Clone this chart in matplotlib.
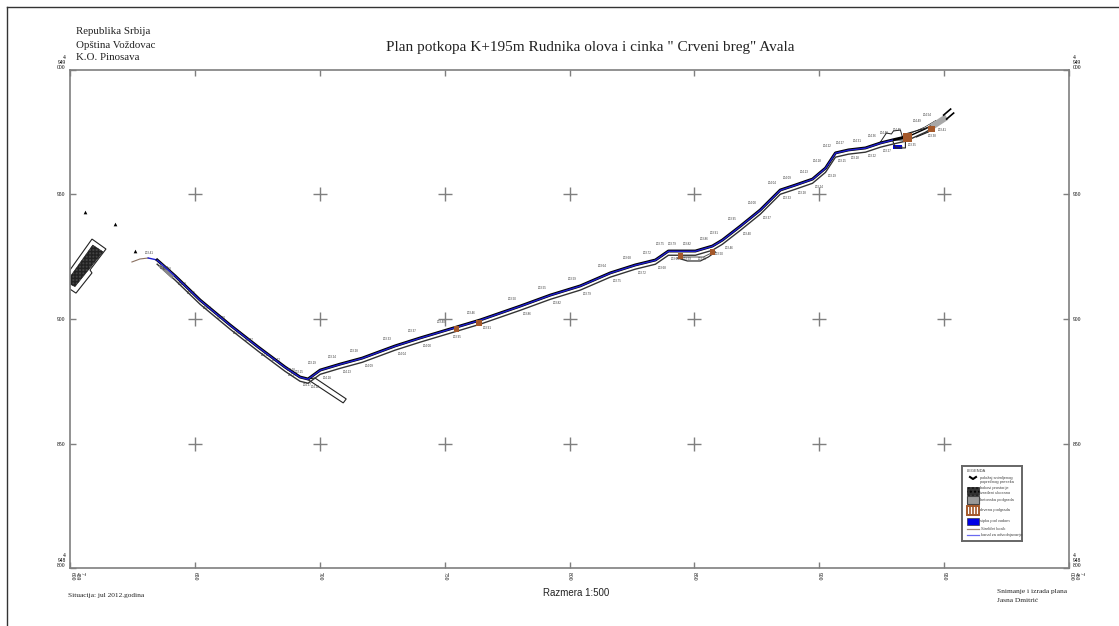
import numpy as np
import matplotlib
matplotlib.use('Agg')
import matplotlib.pyplot as plt
from matplotlib.lines import Line2D
from matplotlib.patches import Polygon, Rectangle

W, H = 1119, 626
serif = 'Liberation Serif'
sans = 'Liberation Sans'
gray = '#7f7f7f'
brown = '#a4582a'
blue = '#1f1fd0'

# plan coordinates in metres, origin at the lower left corner of the frame
route_x = [34.9, 42.1, 52.1, 64.1, 75.3, 86.1, 92.1, 95.3, 100.2, 108.2, 117.0, 130.2, 140.2, 152.2,
           164.2, 180.3, 192.3, 204.3, 216.3, 226.3, 234.4, 239.6, 244.4, 250.4, 257.2, 261.2, 268.4,
           276.4, 284.4, 290.4, 297.3, 302.5, 306.5, 311.7, 318.5, 324.5, 329.3, 334.5, 342.5, 346.5]
route_y = [123.7, 117.3, 107.6, 97.6, 88.8, 80.7, 76.7, 75.9, 79.5, 81.9, 84.3, 89.2, 92.4, 96.0,
           99.6, 105.2, 109.6, 113.3, 118.5, 121.7, 123.7, 127.3, 127.3, 127.3, 129.3, 131.7, 137.3,
           143.8, 151.8, 153.8, 156.2, 160.6, 166.7, 167.9, 168.7, 170.7, 171.9, 173.1, 176.7, 179.1]
# blue drainage canal stops at this route point
canal_end = 37

start_x = [24.8, 28.0, 31.3, 34.9]
start_y = [122.9, 124.1, 124.5, 123.7]
wedge1_x = [36.1, 41.3]
wedge1_y = [121.7, 116.9]
wedge2_x = [344.9, 351.0]
wedge2_y = [177.1, 181.1]
portal1_x = [349.8, 352.6]
portal1_y = [181.9, 184.3]
portal2_x = [351.0, 353.8]
portal2_y = [180.3, 182.7]

building_x = [8.8, 14.4, 8.0, 8.8, 2.4, 0.0, 0.0]
building_y = [132.1, 128.1, 119.7, 118.5, 110.4, 112.0, 119.7]
dark_x = [9.1, 13.2, 2.0, 0.0, 0.0]
dark_y = [129.7, 127.0, 113.0, 114.0, 116.9]
branch_x = [98.1, 110.6, 109.4, 94.9]
branch_y = [76.3, 67.9, 66.3, 75.9]
loop_outer_x = [243.2, 247.2, 252.4, 255.6, 258.4]
loop_outer_y = [124.5, 123.3, 123.3, 124.9, 126.9]
loop_inner_x = [245.2, 248.4, 253.6, 256.8]
loop_inner_y = [124.9, 124.9, 124.9, 126.5]
chamber_x = [324.5, 326.9, 328.9, 329.7, 332.5, 333.3]
chamber_y = [171.1, 174.7, 174.3, 175.5, 175.9, 173.1]
niche_x = [329.3, 330.5, 334.5, 334.5, 330.5]
niche_y = [171.9, 168.7, 168.7, 171.9, 171.9]
pool_x = [329.7, 333.0]
pool_y = [168.4, 169.9]
upper_x = [334.5, 344.1]
upper_y = [174.3, 177.1]
lower_x = [338.9, 343.7]
lower_y = [173.1, 175.1]

timber_x = [154.6, 163.8, 244.4, 257.2, 335.3, 344.9]
timber_y = [96.0, 98.4, 125.3, 126.9, 172.7, 176.3]
timber_size = [14, 14, 14, 14, 42, 22]
point_x = [6.0, 18.2, 26.0]
point_y = [143.0, 138.2, 127.3]

levels = ['203.41', '203.38', '203.35', '203.30', '203.27', '203.22', '203.18', '203.15', '203.19', '203.24',
          '203.28', '203.33', '203.37', '203.40', '203.46', '203.50', '203.55', '203.59', '203.64', '203.68',
          '203.72', '203.75', '203.79', '203.82', '203.86', '203.91', '203.95', '204.00', '204.04', '204.09',
          '204.13', '204.18', '204.22', '204.27', '204.31', '204.36', '204.40', '204.45', '204.49', '204.54']

x_ticks = [0, 50, 100, 150, 200, 250, 300, 350, 400]
x_labels = ['7\n459\n600', '650', '700', '750', '800', '850', '900', '950', '7\n460\n000']
y_ticks = [0, 50, 100, 150, 200]
y_labels = ['4\n948\n800', '850', '900', '950', '4\n949\n000']

route_x = np.array(route_x)
route_y = np.array(route_y)

fig = plt.figure(figsize=(W / 100, H / 100), dpi=100, facecolor='white')
ax = fig.add_axes([70 / W, 1 - 568 / H, 999 / W, 498 / H])
ax.set_xlim(0, 400)
ax.set_ylim(0, 200)

# sheet border
fig.add_artist(Line2D([7 / W, 7 / W], [0, 1 - 7 / H], color='#333333', lw=1))
fig.add_artist(Line2D([7 / W, 1], [1 - 7 / H, 1 - 7 / H], color='#333333', lw=1))

for s in ax.spines.values():
    s.set_color(gray)
    s.set_linewidth(1.2)

ax.set_xticks(x_ticks)
ax.set_xticklabels(x_labels, fontfamily=serif, fontsize=4, rotation=-90, linespacing=1)
ax.set_yticks(y_ticks)
ax.set_yticklabels(y_labels, fontfamily=serif, fontsize=4, linespacing=1)
ax.tick_params(axis='both', direction='in', length=4.5, width=1, color=gray, pad=3, top=True, right=True,
               labelright=True)
for t in ax.yaxis.get_major_ticks()[::4]:
    t.label1.set_verticalalignment('bottom')
    t.label2.set_verticalalignment('bottom')
for t in ax.xaxis.get_major_ticks()[::8]:
    t.label1.set_horizontalalignment('left')

# grid crosses
gx, gy = np.meshgrid(x_ticks[1:-1], y_ticks[1:-1])
ax.plot(gx.ravel(), gy.ravel(), '+', color=gray, ms=9.5, mew=1, ls='none')

# old dump at the left edge
ax.add_patch(Polygon(np.column_stack([building_x, building_y]), closed=True, fc='white', ec='#222222', lw=0.8))
ax.add_patch(Polygon(np.column_stack([dark_x, dark_y]), closed=True, fc='#444444', ec='#222222', lw=0.4,
                     hatch='+++++'))
ax.scatter(point_x, point_y, s=7, marker='^', color='black', lw=0)

# side workings, white fill so they cut the main walls
ax.add_patch(Polygon(np.column_stack([branch_x, branch_y]), closed=True, fc='white', ec='#222222', lw=0.8))
ax.plot(loop_outer_x, loop_outer_y, color='#333333', lw=0.9)
ax.plot(loop_inner_x, loop_inner_y, color='#555555', lw=0.7)
ax.plot(chamber_x, chamber_y, color='#222222', lw=0.7)
ax.plot(niche_x, niche_y, color='#222222', lw=0.8)
ax.add_patch(Rectangle((pool_x[0], pool_y[0]), pool_x[1] - pool_x[0], pool_y[1] - pool_y[0], color='#0000e0', lw=0))

# tunnel walls and canal
ax.plot(start_x[:3], start_y[:3], color='#8a7060', lw=0.8)
ax.plot(start_x[2:], start_y[2:], color=blue, lw=1)
ax.plot(route_x, route_y, color='black', lw=2.1, zorder=3)
ax.plot(route_x, route_y - 1.7, color='#333333', lw=1, zorder=3)
ax.plot(route_x[:canal_end], route_y[:canal_end] - 0.1, color=blue, lw=1, zorder=4)
ax.plot(route_x[canal_end:], route_y[canal_end:] + 0.2, color='white', lw=0.7, zorder=4)
ax.plot(wedge1_x, wedge1_y, color='#888888', lw=3.2, solid_capstyle='butt', zorder=3)
ax.plot(upper_x, upper_y, color='#222222', lw=0.8, zorder=4)
ax.plot(lower_x, lower_y, color='#222222', lw=0.8, zorder=4)
ax.plot(wedge2_x, wedge2_y, color='#a8a8a8', lw=4.5, solid_capstyle='butt', zorder=4)
ax.plot(portal1_x, portal1_y, color='black', lw=1.2, zorder=4)
ax.plot(portal2_x, portal2_y, color='black', lw=1.2, zorder=4)
ax.scatter(timber_x, timber_y, s=timber_size, marker='s', color=brown, lw=0, zorder=5)

# survey levels along both walls
for i, lv in enumerate(levels):
    ax.annotate(lv, (route_x[i], route_y[i]), xytext=(-6, 5), textcoords='offset points', fontsize=2.1,
                color='#333333', ha='center', va='center', fontfamily=sans)
    ax.annotate(levels[-i - 1], (route_x[i], route_y[i]), xytext=(5, -6), textcoords='offset points', fontsize=2.1,
                color='#333333', ha='center', va='center', fontfamily=sans)

# legend in its own little axes, pixel units
lg = fig.add_axes([962 / W, 1 - 541 / H, 60 / W, 75 / H])
lg.set_xlim(0, 60)
lg.set_ylim(75, 0)
lg.set_xticks([])
lg.set_yticks([])
for s in lg.spines.values():
    s.set_color('#666666')
    s.set_linewidth(1.4)
lg_style = dict(fontfamily=sans, fontsize=2.9, color='#444444', va='center', linespacing=1.1)
lg.text(5, 5, 'LEGENDA', **lg_style)
lg.plot([8, 11, 14], [11, 13, 11], color='black', lw=1.5)
lg.text(18.5, 14, 'položaj snimljenog\npoprečnog preseka', **lg_style)
lg.add_patch(Rectangle((5, 20.5), 12, 8, fc='#333333', ec='black', lw=0.4, hatch='....'))
lg.text(18.5, 24.5, 'bokovi prostorije\nizrađeni ukosano', **lg_style)
lg.add_patch(Rectangle((5, 30), 12, 7.5, fc='#999999', ec='#444444', lw=0.8))
lg.text(18.5, 33.5, 'betonska podgrada', **lg_style)
lg.add_patch(Rectangle((5, 39.5), 12, 9, fc='white', ec=brown, lw=1.4))
lg.plot([8, 8], [39.5, 48.5], color=brown, lw=1.2)
lg.plot([11, 11], [39.5, 48.5], color=brown, lw=1.2)
lg.plot([14, 14], [39.5, 48.5], color=brown, lw=1.2)
lg.text(18.5, 44, 'drvena podgrada', **lg_style)
lg.add_patch(Rectangle((5, 51.5), 12, 7.5, fc='#0000e6', ec='#222222', lw=0.4))
lg.text(18.5, 55, 'sipka pod vodom', **lg_style)
lg.plot([5, 17], [63, 63], color='#a08878', lw=0.9)
lg.text(19, 63, 'Strelični kosik', **lg_style)
lg.plot([5, 17], [69, 69], color='#6a6af0', lw=0.9)
lg.text(19, 69, 'kanal za odvodnjavanje', **lg_style)

# sheet texts
fig.text(590 / W, 1 - 47 / H, 'Plan potkopa K+195m Rudnika olova i cinka " Crveni breg" Avala',
         fontfamily=serif, fontsize=11, ha='center', va='center', color='#222222')
for line, y in zip(['Republika Srbija', 'Opština Voždovac', 'K.O. Pinosava'], [32, 45, 58]):
    fig.text(76 / W, 1 - y / H, line, fontfamily=serif, fontsize=7.8, va='center', color='#222222')
fig.text(576 / W, 1 - 593 / H, 'Razmera 1:500', fontfamily=sans, fontsize=7, ha='center', va='center', color='#222222')
fig.text(68 / W, 1 - 595 / H, 'Situacija: jul 2012.godina', fontfamily=serif, fontsize=5.3, va='center', color='#222222')
fig.text(997 / W, 1 - 592 / H, 'Snimanje i izrada plana', fontfamily=serif, fontsize=5.3, va='center', color='#222222')
fig.text(997 / W, 1 - 601 / H, 'Jasna Dmitrić', fontfamily=serif, fontsize=5.3, va='center', color='#222222')

fig.savefig('out.png', dpi=100)
